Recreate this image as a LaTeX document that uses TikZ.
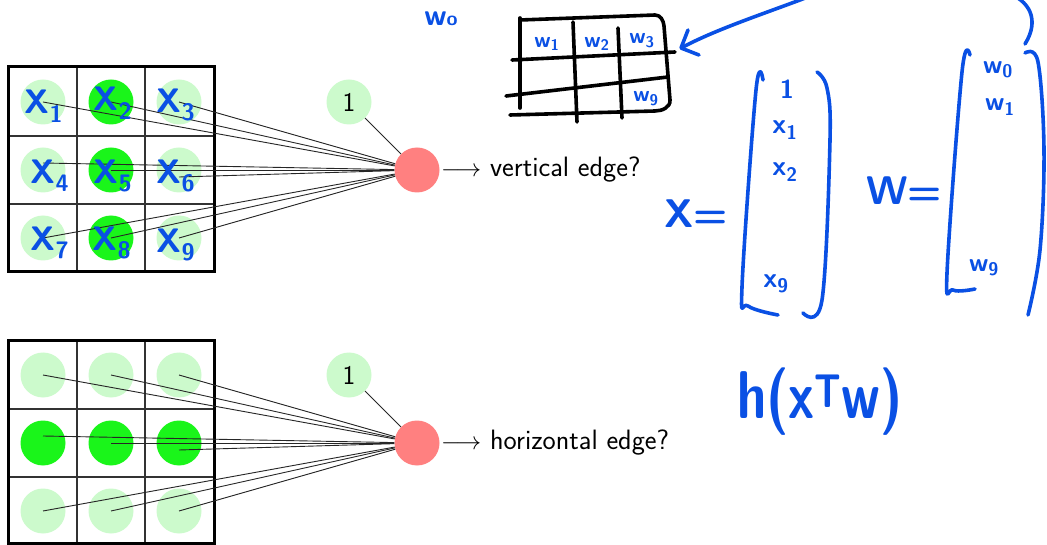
\documentclass[tikz,border=0pt]{standalone}
\definecolor{lightg}{RGB}{204,250,204}
\definecolor{darkg}{RGB}{26,245,26}
\definecolor{neur}{RGB}{255,128,128}
\definecolor{handb}{RGB}{10,80,228}
\tikzset{
  lcell/.style={circle, fill=lightg, minimum size=45pt, inner sep=0pt},
  dcell/.style={circle, fill=darkg, minimum size=45pt, inner sep=0pt},
  onenode/.style={circle, fill=lightg, minimum size=45pt, inner sep=0pt, font=\sffamily\fontsize{27}{30}\selectfont},
  neuron/.style={circle, fill=neur, minimum size=45pt, inner sep=0pt},
  conn/.style={draw=black!85, line width=0.9pt},
  frame/.style={draw=black, line width=3pt},
  inner/.style={draw=black!80, line width=1.2pt},
  hand/.style={draw=handb, line width=3.6pt, line cap=round, line join=round},
  handk/.style={draw=black, line width=3.6pt, line cap=round, line join=round},
  htext/.style={text=handb, inner sep=0pt, font=\sffamily\bfseries\fontsize{#1}{#1}\selectfont},
  outlabel/.style={anchor=west, inner sep=0pt, font=\sffamily\fontsize{28}{32}\selectfont},
}
\begin{document}
\begin{tikzpicture}[x=1pt, y=-1pt]
\useasboundingbox (0,0) rectangle (1047,545);
\clip (0,0) rectangle (1047,545);

% ---------- top grid ----------
\node[lcell] (a11) at (43,102) {};
\node[dcell] (a12) at (111,102) {};
\node[lcell] (a13) at (179,102) {};
\node[lcell] (a21) at (43,170) {};
\node[dcell] (a22) at (111,170) {};
\node[lcell] (a23) at (179,170) {};
\node[lcell] (a31) at (43,238) {};
\node[dcell] (a32) at (111,238) {};
\node[lcell] (a33) at (179,238) {};
\draw[inner] (77,67) -- (77,272) (145,67) -- (145,272) (8,136) -- (214,136) (8,204) -- (214,204);
\draw[frame] (8,67) rectangle (214,272);

\node[neuron] (n1) at (417,170) {};
\node[onenode] (one1) at (349,102) {1};
\draw[conn] (one1) -- (n1);
\foreach \c in {a11,a12,a13,a22,a31,a32,a33} \draw[conn] (\c.center) -- (n1);
\draw[conn] ([yshift=7pt]a21.center) -- (n1);
\draw[conn] ([yshift=-7pt]a23.center) -- (n1);
\node[outlabel] (lab1) at (441,170) {$\longrightarrow$ vertical edge?};

% ---------- bottom grid ----------
\node[lcell] (b11) at (43,375) {};
\node[lcell] (b12) at (111,375) {};
\node[lcell] (b13) at (179,375) {};
\node[dcell] (b21) at (43,443) {};
\node[dcell] (b22) at (111,443) {};
\node[dcell] (b23) at (179,443) {};
\node[lcell] (b31) at (43,511) {};
\node[lcell] (b32) at (111,511) {};
\node[lcell] (b33) at (179,511) {};
\draw[inner] (77,341) -- (77,543.5) (145,341) -- (145,543.5) (8,409) -- (214,409) (8,477) -- (214,477);
\draw[frame] (8,341) rectangle (214,543.5);

\node[neuron] (n2) at (417,443) {};
\node[onenode] (one2) at (349,375) {1};
\draw[conn] (one2) -- (n2);
\foreach \c in {b11,b12,b13,b22,b31,b32,b33} \draw[conn] (\c.center) -- (n2);
\draw[conn] ([yshift=7pt]b21.center) -- (n2);
\draw[conn] ([yshift=-7pt]b23.center) -- (n2);
\node[outlabel] (lab2) at (441,443) {$\longrightarrow$ horizontal edge?};

% ---------- handwritten labels on top grid ----------
\node[htext=34] at (44,106) {X\textsubscript{1}};
\node[htext=34] at (113,103) {X\textsubscript{2}};
\node[htext=34] at (176,105) {X\textsubscript{3}};
\node[htext=34] at (50,176) {X\textsubscript{4}};
\node[htext=34] at (113,176) {X\textsubscript{5}};
\node[htext=34] at (176,176) {X\textsubscript{6}};
\node[htext=34] at (50,243) {X\textsubscript{7}};
\node[htext=34] at (112,243) {X\textsubscript{8}};
\node[htext=34] at (176,245) {X\textsubscript{9}};

% ---------- hand-drawn weight grid ----------
\node[htext=30] (w0top) at (441,19) {w\fontsize{20}{20}\selectfont o};
\draw[handk] (520,18) -- (520,108);
\draw[handk] (573,22) -- (577,122);
\draw[handk] (618,28) -- (622,118);
\draw[handk] (512,60) -- (675,52);
\draw[handk] (506,96) -- (668,77);
\draw[handk] (520,20) -- (655,15) to[out=0,in=95] (664,26) -- (670,100) to[out=-85,in=0] (655,111) -- (510,115);
\node[htext=22] at (547,44) {w\textsubscript{1}};
\node[htext=22] at (597,44) {w\textsubscript{2}};
\node[htext=22] at (642,41) {w\textsubscript{3}};
\node[htext=22] at (646,99) {w\textsubscript{9}};

% arrow pointing to weight grid
\draw[hand] (1025,44) .. controls (1040,20) and (1030,0) .. (1005,-8)
  .. controls (950,-28) and (850,-20) .. (800,0)
  .. controls (760,15) and (715,30) .. (683,47);
\draw[hand] (688,30) -- (681,48) -- (699,55);

% ---------- vector X ----------
\node[htext=40] (xeq) at (696,214) {X=};
\draw[hand] plot[smooth, tension=0.6] coordinates {(763,80) (756,90) (742,287) (748,306) (778,315)};
\draw[hand] plot[smooth, tension=0.6] coordinates {(817,72) (827,88) (830,140) (822,300) (803,313)};
\node[htext=26] at (787,89) {1};
\node[htext=28] at (785,130) {x\textsubscript{1}};
\node[htext=28] at (785,172) {x\textsubscript{2}};
\node[htext=28] at (776,284) {x\textsubscript{9}};

% ---------- vector W ----------
\node[htext=40] (weq) at (904,191) {W=};
\draw[hand] plot[smooth, tension=0.6] coordinates {(970,55) (962,72) (947,273) (953,290) (975,289)};
\draw[hand] plot[smooth, tension=0.6] coordinates {(1025,53) (1038,62) (1044,150) (1040,250) (1028,315)};
\node[htext=26] at (998,70) {w\textsubscript{0}};
\node[htext=26] at (1000,107) {w\textsubscript{1}};
\node[htext=26] at (984,268) {w\textsubscript{9}};

% ---------- h(x^T w) ----------
\node[htext=52] (hx) at (820,402) {\scalebox{1}[1.3]{h(x\textsuperscript{T}w)}};
\end{tikzpicture}
\end{document}
